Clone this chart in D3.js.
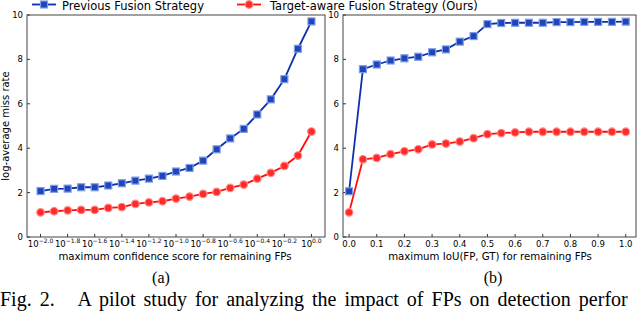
<!DOCTYPE html>
<meta charset="utf-8">
<head>
<title>FP pilot study</title>
<script src="https://d3js.org/d3.v7.min.js"></script>
<style>
  body { margin: 0; background: #fff; }
  svg text { font-family: "DejaVu Sans", sans-serif; }
</style>
</head>
<body>
<div id="home"></div>
<script>
// (a) x positions are exponents of 10, (b) x positions are IoU
let expX = [-2.0,-1.9,-1.8,-1.7,-1.6,-1.5,-1.4,-1.3,-1.2,-1.1,-1.0,-0.9,-0.8,-0.7,-0.6,-0.5,-0.4,-0.3,-0.2,-0.1,0.0];
let prevA = [2.07,2.17,2.18,2.24,2.24,2.32,2.42,2.54,2.63,2.75,2.95,3.11,3.44,3.95,4.44,4.87,5.52,6.20,7.11,8.48,9.71];
let oursA = [1.11,1.16,1.20,1.22,1.22,1.31,1.35,1.49,1.56,1.61,1.73,1.82,1.94,2.03,2.21,2.36,2.63,2.89,3.20,3.67,4.75];

let iouX = [0.0,0.05,0.1,0.15,0.2,0.25,0.3,0.35,0.4,0.45,0.5,0.55,0.6,0.65,0.7,0.75,0.8,0.85,0.9,0.95,1.0];
let prevB = [2.06,7.56,7.77,7.95,8.05,8.12,8.32,8.45,8.80,9.05,9.59,9.64,9.65,9.65,9.65,9.68,9.68,9.69,9.69,9.69,9.70];
let oursB = [1.11,3.50,3.56,3.73,3.86,3.95,4.17,4.21,4.30,4.45,4.63,4.68,4.71,4.74,4.74,4.74,4.74,4.74,4.74,4.74,4.74];

let yTicks = [0,2,4,6,8,10];
let expTicks = [-2.0,-1.8,-1.6,-1.4,-1.2,-1.0,-0.8,-0.6,-0.4,-0.2,0.0];
let iouTicks = [0.0,0.1,0.2,0.3,0.4,0.5,0.6,0.7,0.8,0.9,1.0];

let seriesNames = ["Previous Fusion Strategy", "Target-aware Fusion Strategy (Ours)"];

let blue = "#0d2fae", blueEdge = "#7f9de6";
let red = "#ff0d0d", redEdge = "#ff8a8a";

let w = 640, h = 312;
let svg = d3.select("#home").append("svg").attr("width", w).attr("height", h);

let y = d3.scaleLinear().domain([0, 10]).range([237, 15]);

function panel(x0, x1, xScale, xs, prev, ours, ticks, tickFmt, xlabel, labelX, sub) {
  let g = svg.append("g");
  let x = xScale.range([x0, x1]);

  // ticks, inward
  g.selectAll(".yt").data(yTicks).enter().append("line")
    .attr("x1", x0).attr("x2", x0 + 3)
    .attr("y1", d => y(d)).attr("y2", d => y(d))
    .style("stroke", "#333");
  g.selectAll(".ytl").data(yTicks).enter().append("text")
    .attr("x", x0 - 4).attr("y", d => y(d) + 3)
    .attr("text-anchor", "end").style("font-size", "8.5px")
    .text(d => d);
  g.selectAll(".xt").data(ticks).enter().append("line")
    .attr("x1", d => x(d)).attr("x2", d => x(d))
    .attr("y1", 237).attr("y2", 234)
    .style("stroke", "#333");
  tickFmt(g.selectAll(".xtl").data(ticks).enter().append("text")
    .attr("x", d => x(d)).attr("y", 247)
    .attr("text-anchor", "middle").style("font-size", "8.5px"));

  let line = d3.line().x((d, i) => x(xs[i])).y(d => y(d));

  g.append("path").datum(prev).attr("d", line)
    .style("fill", "none").style("stroke", blue).style("stroke-width", 1.8);
  g.append("path").datum(ours).attr("d", line)
    .style("fill", "none").style("stroke", red).style("stroke-width", 1.8);

  g.selectAll(".sq").data(prev).enter().append("rect")
    .attr("x", (d, i) => x(xs[i]) - 3.5).attr("y", d => y(d) - 3.5)
    .attr("width", 7).attr("height", 7)
    .style("fill", "#1f45b8").style("stroke", blueEdge).style("stroke-width", 1.2);
  g.selectAll(".ci").data(ours).enter().append("circle")
    .attr("cx", (d, i) => x(xs[i])).attr("cy", d => y(d)).attr("r", 3.8)
    .style("fill", "#ff2a2a").style("stroke", redEdge).style("stroke-width", 1.2);

  g.append("rect").attr("x", x0).attr("y", 15)
    .attr("width", x1 - x0).attr("height", 222)
    .style("fill", "none").style("stroke", "#444").style("stroke-width", 1);

  g.append("text").attr("x", labelX).attr("y", 260)
    .attr("text-anchor", "middle").style("font-size", "10.2px").text(xlabel);
  g.append("text").attr("x", sub[1]).attr("y", 283)
    .attr("text-anchor", "middle").style("font-family", "Liberation Serif")
    .style("font-size", "16px").text(sub[0]);
}

panel(27, 325, d3.scaleLinear().domain([-2.1, 0.1]), expX, prevA, oursA, expTicks,
  sel => {
    sel.text("10");
    sel.append("tspan").attr("dy", -4).style("font-size", "6px")
      .text(d => (d < 0 ? "\u2212" : "") + Math.abs(d).toFixed(1));
  },
  "maximum confidence score for remaining FPs", 175, ["(a)", 161]);

panel(343, 636, d3.scaleLinear().domain([-0.022, 1.037]), iouX, prevB, oursB, iouTicks,
  sel => sel.text(d => d.toFixed(1)),
  "maximum IoU(FP, GT) for remaining FPs", 490, ["(b)", 493]);

svg.append("text").attr("transform", "translate(9,126) rotate(-90)")
  .attr("text-anchor", "middle").style("font-size", "10px").text("log-average miss rate");

// legend along the top
let leg = [[32, 62, blue, "sq"], [237, 270, red, "ci"]];
leg.forEach((l, i) => {
  svg.append("line").attr("x1", l[0]).attr("x2", l[0] + 24).attr("y1", 4.5).attr("y2", 4.5)
    .style("stroke", l[2]).style("stroke-width", 1.8);
  if (l[3] == "sq") {
    svg.append("rect").attr("x", l[0] + 8.5).attr("y", 1).attr("width", 7).attr("height", 7)
      .style("fill", "#1f45b8").style("stroke", blueEdge).style("stroke-width", 1.2);
  } else {
    svg.append("circle").attr("cx", l[0] + 12).attr("cy", 4.5).attr("r", 3.8)
      .style("fill", "#ff2a2a").style("stroke", redEdge).style("stroke-width", 1.2);
  }
  svg.append("text").attr("x", l[1]).attr("y", 9.5).style("font-size", "11.5px").text(seriesNames[i]);
});

svg.append("text").attr("x", 0).attr("y", 306)
  .style("font-family", "Liberation Serif").style("font-size", "20px")
  .style("word-spacing", "3px")
  .attr("xml:space", "preserve")
  .text("Fig. 2.   A pilot study for analyzing the impact of FPs on detection perfor");
</script>
</body>
